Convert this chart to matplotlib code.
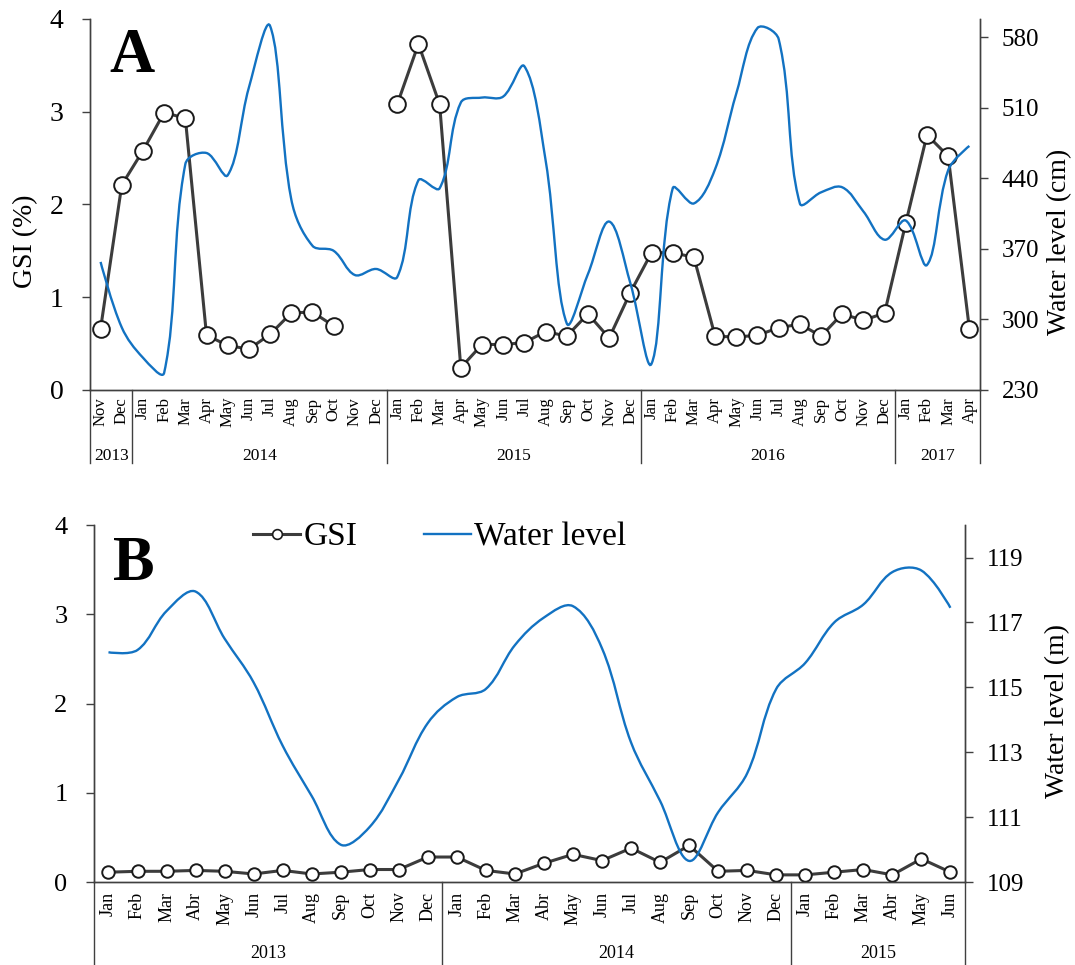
import matplotlib
matplotlib.use('Agg')
import matplotlib.pyplot as plt
import matplotlib.transforms as mtransforms
import numpy as np
from matplotlib.path import Path
from matplotlib.patches import PathPatch
from matplotlib.lines import Line2D

plt.rcParams['font.family'] = ['Liberation Serif', 'DejaVu Serif']

# ---- panel A data (Nov 2013 - Apr 2017) ----
mon_en = ['Jan', 'Feb', 'Mar', 'Apr', 'May', 'Jun', 'Jul', 'Aug', 'Sep', 'Oct', 'Nov', 'Dec']
months_a = ['Nov', 'Dec'] + mon_en * 3 + ['Jan', 'Feb', 'Mar', 'Apr']
years_a = ['2013', '2014', '2015', '2016', '2017']
year_len_a = [2, 12, 12, 12, 4]
gsi_a = [0.66, 2.21, 2.58, 2.99, 2.93, 0.59, 0.48, 0.44, 0.60, 0.83, 0.84, 0.69,
         np.nan, np.nan,
         3.08, 3.73, 3.08, 0.24, 0.49, 0.49, 0.51, 0.63, 0.58, 0.82, 0.56, 1.05,
         1.48, 1.48, 1.43, 0.58, 0.57, 0.59, 0.67, 0.71, 0.58, 0.82, 0.75, 0.83,
         1.80, 2.75, 2.52, 0.66]
water_a = [357, 292, 262, 247, 454, 465, 443, 530, 591, 419, 373, 368, 344, 350,
           342, 438, 430, 515, 520, 521, 551, 458, 296, 345, 397, 336,
           256, 430, 415, 449, 524, 589, 578, 415, 426, 431, 407, 379,
           398, 354, 448, 472]

# ---- panel B data (Jan 2013 - Jun 2015) ----
mon_es = ['Jan', 'Feb', 'Mar', 'Abr', 'May', 'Jun', 'Jul', 'Aug', 'Sep', 'Oct', 'Nov', 'Dec']
months_b = mon_es * 2 + mon_es[:6]
years_b = ['2013', '2014', '2015']
year_len_b = [12, 12, 6]
gsi_b = [0.11, 0.12, 0.12, 0.13, 0.12, 0.09, 0.13, 0.09, 0.11, 0.14, 0.14, 0.28,
         0.28, 0.13, 0.09, 0.21, 0.31, 0.24, 0.38, 0.22, 0.41, 0.12, 0.13, 0.08,
         0.08, 0.11, 0.14, 0.08, 0.26, 0.11]
water_b = [116.08, 116.15, 117.35, 117.95, 116.5, 115.15, 113.2, 111.65, 110.15, 110.7,
           112.15, 113.9, 114.7, 114.95, 116.3, 117.15, 117.5, 116.2, 113.3, 111.5,
           109.65, 111.15, 112.35, 114.95, 115.75, 117.0, 117.55, 118.55, 118.6, 117.45]

GREY = '#3c3c3c'
BLUE = '#1272c2'
AXC = '#404040'


def smooth_path(ax, x, y, t=0.36):
    # spreadsheet-style smoothed line: bezier pieces, tangents weighted by
    # the on-screen length of the neighbouring segments
    x = np.asarray(x, float)
    y = np.asarray(y, float)
    n = len(x)
    pts = np.c_[x, y]
    disp = ax.transData.transform(pts)
    seg = np.hypot(*np.diff(disp, axis=0).T)
    c_in = pts.copy()
    c_out = pts.copy()
    for i in range(1, n - 1):
        d0, d1 = seg[i - 1], seg[i]
        tang = pts[i + 1] - pts[i - 1]
        c_in[i] = pts[i] - t * d0 / (d0 + d1) * tang
        c_out[i] = pts[i] + t * d1 / (d0 + d1) * tang
    verts = [tuple(pts[0])]
    codes = [Path.MOVETO]
    for i in range(n - 1):
        verts += [tuple(c_out[i]), tuple(c_in[i + 1]), tuple(pts[i + 1])]
        codes += [Path.CURVE4] * 3
    return Path(verts, codes)


def panel(rect, months, years, year_len, gsi, water, wl_lim, wl_ticks, wl_label,
          wl_label_y, letter, letter_y, ms, mfs, yfs, year_y, sep_y, lpad, lfs):
    ax = fig.add_axes(rect)
    x = np.arange(len(months))
    ax.plot(x, gsi, color=GREY, lw=2.2, marker='o', ms=ms, mfc='white',
            mec='#1a1a1a', mew=1.4, zorder=3, clip_on=False)
    ax.set_xlim(-0.5, len(months) - 0.5)
    ax.set_ylim(0, 4)
    ax.set_yticks([0, 1, 2, 3, 4])
    ax.set_xticks(x)
    ax.set_xticklabels(months, rotation=90, fontsize=mfs)
    ax.tick_params(axis='x', length=0, pad=lpad)
    ax.tick_params(axis='y', direction='out', length=6, width=1, color=AXC,
                   labelsize=lfs, pad=13)

    ax2 = ax.twinx()
    ax2.set_ylim(*wl_lim)
    ax2.add_patch(PathPatch(smooth_path(ax2, x, water), fill=False, ec=BLUE,
                            lw=1.7, zorder=4))
    ax2.set_yticks(wl_ticks)
    ax2.tick_params(axis='y', direction='out', length=5.5, width=1, color=AXC,
                    labelsize=18, pad=10)
    ax2.set_ylabel(wl_label, fontsize=20)
    ax2.yaxis.set_label_coords(1.075, wl_label_y)

    for a in (ax, ax2):
        a.spines['top'].set_visible(False)
        for s in ('left', 'right', 'bottom'):
            a.spines[s].set_color(AXC)
            a.spines[s].set_linewidth(1)

    # year group row under the month labels
    trans = mtransforms.blended_transform_factory(ax.transData, ax.transAxes)
    edges = np.concatenate([[0], np.cumsum(year_len)]) - 0.5
    for e in edges:
        ax.plot([e, e], [0, sep_y], transform=trans, color=AXC, lw=1,
                clip_on=False)
    for i, yr in enumerate(years):
        ax.text((edges[i] + edges[i + 1]) / 2, year_y, yr, transform=trans,
                ha='center', va='center', fontsize=yfs)

    ax.text(0.022, letter_y, letter, transform=ax.transAxes, ha='left', va='top',
            fontsize=45, fontweight='bold')
    return ax, ax2


fig = plt.figure(figsize=(10.75, 9.65), dpi=100)

axA, axA2 = panel([0.0837, 0.5959, 0.8279, 0.3845], months_a, years_a, year_len_a,
                  gsi_a, water_a, (230, 598), [230, 300, 370, 440, 510, 580],
                  'Water level (cm)', 0.40, 'A', 0.975, 12, 12, 12.5,
                  -0.178, -0.197, 5, 20)
axA.set_ylabel('GSI (%)', fontsize=20)
axA.yaxis.set_label_coords(-0.058, 0.40)

axB, axB2 = panel([0.0874, 0.0860, 0.8102, 0.3699], months_b, years_b, year_len_b,
                  gsi_b, water_b, (109, 120), [109, 111, 113, 115, 117, 119],
                  'Water level (m)', 0.48, 'B', 0.97, 9, 13, 13,
                  -0.199, -0.235, 7, 19)
axB2.yaxis.set_label_coords(1.092, 0.48)

handles = [Line2D([], [], color=GREY, lw=2.2, marker='o', ms=7, mfc='white',
                  mec='#1a1a1a', mew=1.2),
           Line2D([], [], color=BLUE, lw=1.7)]
fig.legend(handles, ['GSI', 'Water level'], loc='center',
           bbox_to_anchor=(0.409, 0.4435), ncol=2, frameon=False, fontsize=24,
           handlelength=1.4, handletextpad=0.1, columnspacing=2.0)

fig.savefig('out.png', dpi=100)
